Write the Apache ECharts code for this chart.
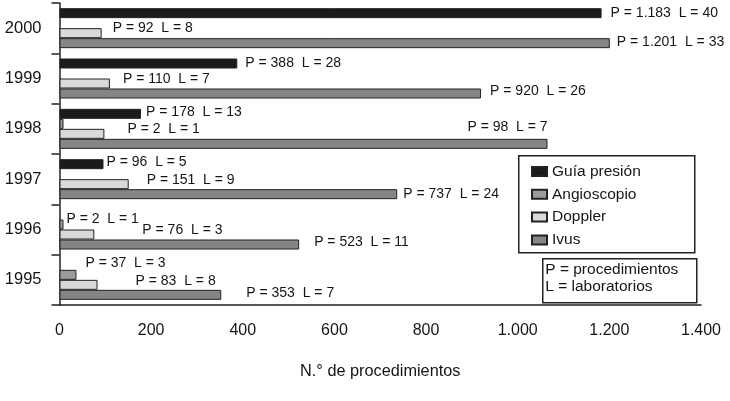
<!DOCTYPE html>
<html><head><meta charset="utf-8">
<script src="https://cdn.jsdelivr.net/npm/echarts@6/dist/echarts.min.js"></script>
<style>html,body{margin:0;padding:0;background:#fff}#c{width:730px;height:401px}</style>
</head><body><div id="c"></div>
<script>
// ---- data ----
const years = ['1995', '1996', '1997', '1998', '1999', '2000'];
const seriesNames = ['Guía presión', 'Angioscopio', 'Doppler', 'Ivus'];
const guiaP = [null, null, 96, 178, 388, 1183];
const guiaL = [null, null, 5, 13, 28, 40];
const angioP = [37, 2, null, 2, null, null];
const angioL = [3, 1, null, 1, null, null];
const dopplerP = [83, 76, 151, 98, 110, 92];
const dopplerL = [8, 3, 9, 7, 7, 8];
const ivusP = [353, 523, 737, 1065, 920, 1201];
const ivusL = [7, 11, 24, null, 26, 33];
const xTicks = [0, 200, 400, 600, 800, 1000, 1200, 1400];
const axisTitle = 'N.° de procedimientos';
const noteLines = ['P = procedimientos', 'L = laboratorios'];

// ---- styles / label nudges (pixels) ----
const FONT = "'Liberation Sans','Arial',sans-serif";
const colors = ['#1b1b1b', '#9c9c9c', '#d9d9d9', '#858585'];
const nudges = [
  {2: [-2, -2.5], 3: [0, -2], 4: [3, 0], 5: [4, 0]},
  {0: [4, -12], 1: [-2, -5], 3: [59, 5]},
  {0: [33, -4], 1: [43, -4], 2: [13, -4], 3: [358, -6.5], 4: [8, -4], 5: [6, -5]},
  {0: [20, -2], 1: [10, -2], 2: [1, 0], 4: [4, -2], 5: [2, -1]}
];

function fmt(n) { return String(n).replace(/\B(?=(\d{3})+(?!\d))/g, '.'); }

const pArrays = [guiaP, angioP, dopplerP, ivusP];
const lArrays = [guiaL, angioL, dopplerL, ivusL];

const series = seriesNames.map((name, si) => ({
  name: name,
  type: 'bar',
  barWidth: 10,
  barGap: '0%',
  barMinHeight: 4,
  itemStyle: {color: colors[si], borderColor: '#222', borderWidth: 1},
  label: {
    show: true, position: 'right', distance: 5,
    fontFamily: FONT, fontSize: 14, color: '#151515',
    formatter: (p) => {
      const L = lArrays[si][p.dataIndex];
      if (L == null || p.value == null) return '';
      return 'P = ' + fmt(p.value) + '  L = ' + L;
    }
  },
  data: pArrays[si].map((v, i) => ({
    value: v,
    label: {offset: nudges[si][i] || [0, 0]}
  }))
}));

const chart = echarts.init(document.getElementById('c'));
chart.setOption({
  animation: false,
  backgroundColor: '#fff',
  grid: {left: 59.5, right: 29, top: 3, bottom: 96},
  xAxis: {
    type: 'value',
    min: xTicks[0], max: xTicks[xTicks.length - 1], interval: xTicks[1] - xTicks[0],
    axisLine: {show: true, lineStyle: {color: '#222', width: 1.5}},
    axisTick: {show: false},
    splitLine: {show: false},
    axisLabel: {fontFamily: FONT, fontSize: 16, color: '#151515', margin: 17.5, formatter: fmt},
    name: axisTitle, nameLocation: 'middle', nameGap: 59,
    nameTextStyle: {fontFamily: FONT, fontSize: 16.3, color: '#151515'}
  },
  yAxis: {
    type: 'category',
    data: years,
    axisLine: {show: true, lineStyle: {color: '#222', width: 1.5}},
    axisTick: {show: true, length: 8, lineStyle: {color: '#222', width: 1.5}},
    axisLabel: {fontFamily: FONT, fontSize: 16.5, color: '#151515', margin: 18}
  },
  legend: {
    orient: 'vertical',
    left: 518, top: 155,
    data: seriesNames,
    itemWidth: 15, itemHeight: 9, itemGap: 4.8, itemTextGap: 7,
    padding: [7.5, 0, 0, 13],
    textStyle: {fontFamily: FONT, fontSize: 15.5, color: '#151515', lineHeight: 18},
    icon: 'rect',
    selectedMode: false
  },
  graphic: [
    {type: 'rect', left: 518, top: 155, z: -1,
     shape: {x: 0, y: 0, width: 176, height: 97}, style: {fill: '#fff', stroke: '#222', lineWidth: 1.5}},
    {type: 'group', left: 542, top: 258,
     children: [
      {type: 'rect', shape: {x: 0, y: 0, width: 154, height: 44}, style: {fill: '#fff', stroke: '#222', lineWidth: 1.5}},
      {type: 'text', x: 2.5, y: 10.5, style: {text: noteLines[0], font: "15.5px " + FONT, fill: '#151515', verticalAlign: 'middle'}},
      {type: 'text', x: 2.5, y: 28, style: {text: noteLines[1], font: "15.5px " + FONT, fill: '#151515', verticalAlign: 'middle'}}
     ]}
  ],
  series: series
});
</script></body></html>
